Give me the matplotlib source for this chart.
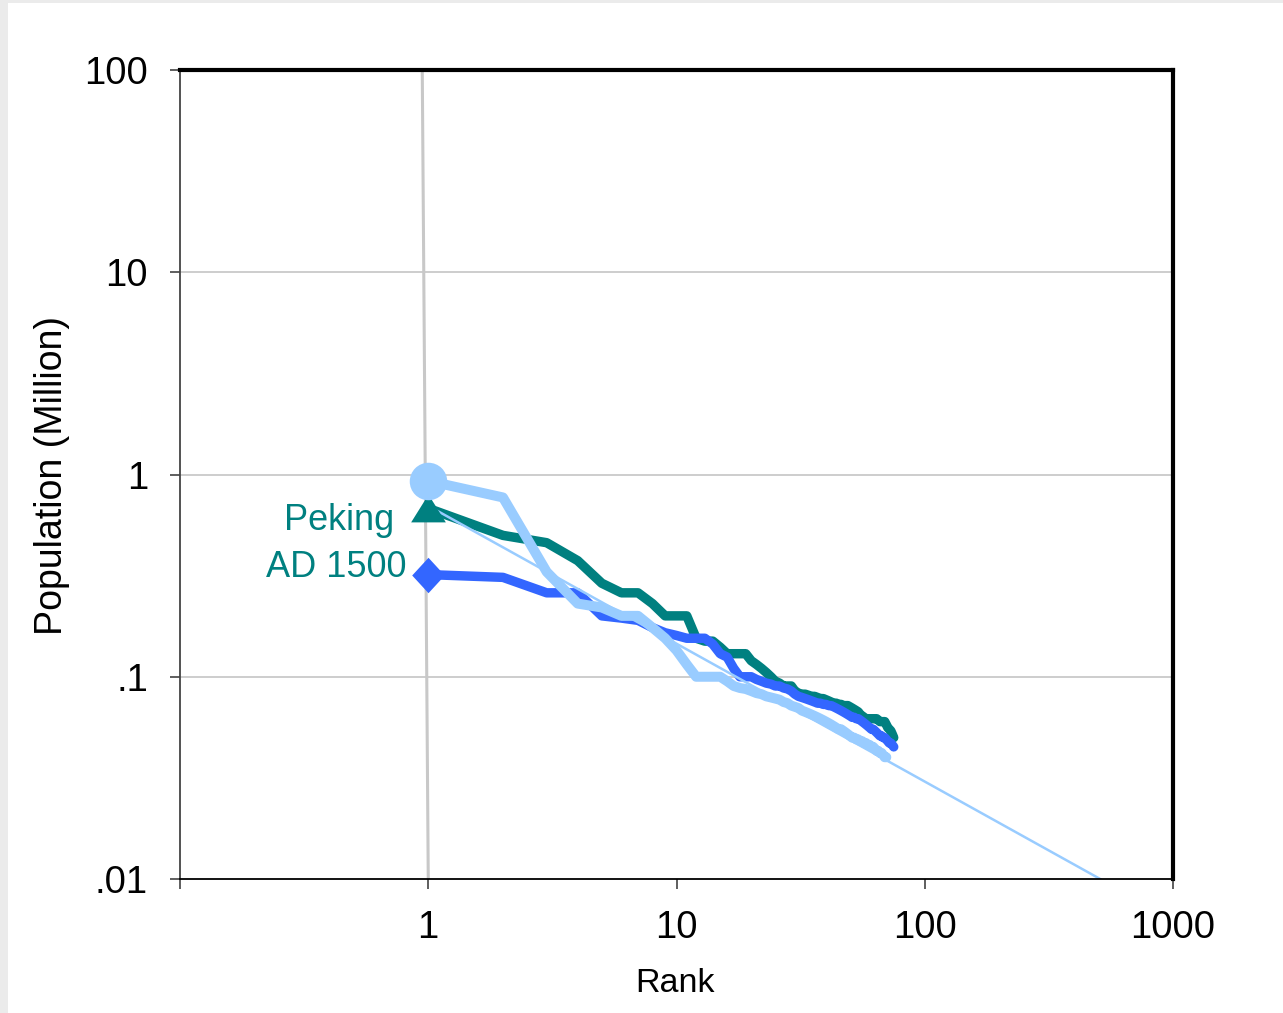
import matplotlib
matplotlib.use("Agg")
import matplotlib.pyplot as plt
from matplotlib.patches import Rectangle
from matplotlib.ticker import FixedLocator, FixedFormatter, NullLocator

plt.rcParams['font.family'] = ['Liberation Sans', 'DejaVu Sans']

# City populations (million) by rank
ranks_teal = list(range(1, 76))
pop_teal = [0.68, 0.50, 0.46, 0.375, 0.29, 0.26, 0.26, 0.23, 0.20, 0.20,
            0.20, 0.155, 0.15, 0.15, 0.14, 0.13, 0.13, 0.13, 0.13, 0.12,
            0.115, 0.11, 0.105, 0.10, 0.095, 0.093, 0.09, 0.09, 0.09, 0.085,
            0.083, 0.082, 0.082, 0.081, 0.08, 0.08, 0.079, 0.078, 0.078, 0.077,
            0.076, 0.075, 0.074, 0.074, 0.073, 0.073, 0.072, 0.072, 0.072, 0.071,
            0.07, 0.069, 0.068, 0.067, 0.065, 0.064, 0.063, 0.062, 0.062, 0.062,
            0.062, 0.062, 0.062, 0.062, 0.061, 0.06, 0.06, 0.06, 0.06, 0.058,
            0.056, 0.055, 0.054, 0.052, 0.05]

ranks_blue = list(range(1, 76))
pop_blue = [0.32, 0.31, 0.26, 0.26, 0.20, 0.195, 0.19, 0.175, 0.165, 0.16,
            0.155, 0.155, 0.155, 0.145, 0.13, 0.125, 0.11, 0.10, 0.10, 0.10,
            0.097, 0.095, 0.093, 0.092, 0.09, 0.09, 0.088, 0.087, 0.085, 0.082,
            0.08, 0.079, 0.078, 0.077, 0.076, 0.075, 0.074, 0.074, 0.073, 0.073,
            0.072, 0.072, 0.071, 0.07, 0.069, 0.068, 0.067, 0.066, 0.065, 0.064,
            0.063, 0.063, 0.062, 0.062, 0.061, 0.06, 0.059, 0.058, 0.057, 0.056,
            0.055, 0.055, 0.054, 0.053, 0.052, 0.051, 0.051, 0.05, 0.05, 0.049,
            0.048, 0.047, 0.047, 0.046, 0.045]

ranks_light = list(range(1, 71))
pop_light = [0.93, 0.77, 0.33, 0.23, 0.22, 0.20, 0.20, 0.175, 0.155, 0.135,
             0.115, 0.10, 0.10, 0.10, 0.10, 0.095, 0.09, 0.088, 0.087, 0.085,
             0.083, 0.082, 0.08, 0.079, 0.078, 0.077, 0.075, 0.074, 0.072, 0.071,
             0.07, 0.068, 0.067, 0.066, 0.065, 0.064, 0.063, 0.062, 0.061, 0.06,
             0.059, 0.058, 0.057, 0.056, 0.055, 0.055, 0.054, 0.053, 0.052, 0.051,
             0.05, 0.05, 0.049, 0.049, 0.048, 0.048, 0.047, 0.047, 0.046, 0.046,
             0.045, 0.045, 0.044, 0.043, 0.043, 0.042, 0.042, 0.041, 0.04, 0.04]

# Rank-size reference line endpoints
fit_rank = [1, 509]
fit_pop = [0.70, 0.01]

# Reference line at rank one
ref_rank = [0.946, 1.0]
ref_pop = [100, 0.01]

x_ticks = [0.1, 1, 10, 100, 1000]
x_labels = ['', '1', '10', '100', '1000']
y_ticks = [0.01, 0.1, 1, 10, 100]
y_labels = ['.01', '.1', '1', '10', '100']
grid_levels = [0.1, 1, 10]

TEAL = '#008080'
BLUE = '#3366FF'
LIGHT = '#99CCFF'

W, H = 1283, 1013
fig = plt.figure(figsize=(W / 100, H / 100), dpi=100, facecolor='#EBEBEB')
fig.patches.append(Rectangle((8 / W, 0), 1 - 8 / W, 1 - 3 / H,
                             transform=fig.transFigure, facecolor='white',
                             edgecolor='none', zorder=-5))

ax = fig.add_axes([180 / W, 1 - 879 / H, (1173 - 180) / W, (879 - 70) / H])
ax.set_zorder(1)
ax.set_facecolor('white')
ax.set_xscale('log')
ax.set_yscale('log')
ax.set_xlim(0.1, 1000)
ax.set_ylim(0.01, 100)

for g in grid_levels:
    ax.axhline(g, color='#C0C0C0', lw=1.1, zorder=1)

ax.plot(ref_rank, ref_pop, color='#C8C8C8', lw=2.2, zorder=2)

line_kw = dict(solid_capstyle='round', solid_joinstyle='round')
ax.plot(ranks_teal, pop_teal, color=TEAL, lw=6.8, zorder=3, **line_kw)
ax.plot(ranks_blue, pop_blue, color=BLUE, lw=6.8, zorder=4, **line_kw)
ax.plot(ranks_light, pop_light, color=LIGHT, lw=7.2, zorder=5, **line_kw)
ax.plot(fit_rank, fit_pop, color=LIGHT, lw=1.8, zorder=6)

tri = [(-1, -0.8), (1, -0.8), (0, 0.8)]
dia = [(0, 1), (0.92, 0), (0, -1), (-0.92, 0)]
ax.plot(ranks_teal[0], pop_teal[0], marker=tri, ms=25, color=TEAL,
        mew=0, zorder=7, clip_on=False)
ax.plot(ranks_blue[0], pop_blue[0], marker=dia, ms=25.5, color=BLUE,
        mew=0, zorder=7, clip_on=False)
ax.plot(ranks_light[0], pop_light[0], marker='o', ms=27, color=LIGHT,
        mew=0, zorder=8, clip_on=False)

ax.text(0.73, 0.59, 'Peking', color=TEAL, fontsize=26, ha='right',
        va='center', zorder=9)
ax.text(0.816, 0.345, 'AD 1500', color=TEAL, fontsize=26, ha='right',
        va='center', zorder=9)

ax.xaxis.set_major_locator(FixedLocator(x_ticks))
ax.xaxis.set_major_formatter(FixedFormatter(x_labels))
ax.xaxis.set_minor_locator(NullLocator())
ax.yaxis.set_major_locator(FixedLocator(y_ticks))
ax.yaxis.set_major_formatter(FixedFormatter(y_labels))
ax.yaxis.set_minor_locator(NullLocator())

ax.tick_params(axis='x', direction='out', length=7, width=1.1,
               color='#333333', labelsize=27.5, pad=15)
ax.tick_params(axis='y', direction='out', length=7, width=1.1,
               color='#333333', labelsize=27.5, pad=16)

ax.spines['top'].set_linewidth(3)
ax.spines['top'].set_color('black')
ax.spines['right'].set_linewidth(3)
ax.spines['right'].set_color('black')
ax.spines['left'].set_linewidth(1.3)
ax.spines['left'].set_color('#444444')
ax.spines['bottom'].set_linewidth(1.3)
ax.spines['bottom'].set_color('black')
for s in ax.spines.values():
    s.set_zorder(10)

ax.set_xlabel('Rank', fontsize=24.5)
ax.xaxis.set_label_coords(0.4985, -(983 - 879) / (879 - 70))
ax.xaxis.label.set_va('center')
ax.set_ylabel('Population (Million)', fontsize=27)
ax.yaxis.set_label_coords(-(180 - 52) / (1173 - 180), (879 - 475) / (879 - 70))
ax.yaxis.label.set_va('center')

fig.savefig('out.png', dpi=100, facecolor=fig.get_facecolor())
